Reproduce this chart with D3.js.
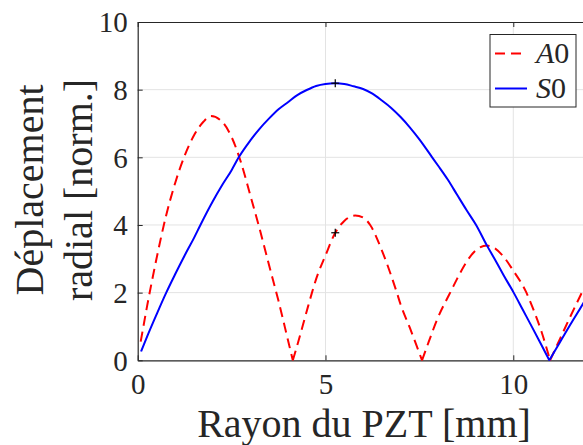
<!DOCTYPE html>
<html><head><meta charset="utf-8">
<script src="https://cdn.jsdelivr.net/npm/d3@7"></script>
<style>
body{margin:0;background:#fff;}
</style></head>
<body><svg id="c" width="583" height="445"></svg>
<script>
// ---- data ----
const a0X = [0.08,0.25,0.5,0.75,1.0,1.25,1.5,1.75,1.95,2.25,2.5,2.75,3.0,3.25,3.5,3.75,4.0,4.13,
  4.25,4.5,4.64,4.75,5.0,5.26,5.5,5.79,6.0,6.19,6.5,6.75,6.9,7.0,7.25,7.57,
  7.75,7.97,8.25,8.32,8.5,8.75,9.0,9.3,9.5,9.75,10.0,10.35,10.5,10.75,10.98,
  11.25,11.5,11.86,12.0];
const a0Y = [0.55,1.6,3.0,4.25,5.25,6.05,6.65,7.05,7.22,7.05,6.6,5.85,4.87,3.87,2.8,1.75,0.6,0,
  0.45,1.45,2.0,2.4,3.1,3.77,4.12,4.28,4.22,4.0,3.25,2.5,2.0,1.65,0.95,0,
  0.55,1.2,1.85,2.0,2.4,2.9,3.25,3.39,3.32,3.05,2.65,2.0,1.6,0.85,0,
  0.65,1.25,2.08,2.4];
const s0X = [0.09,0.25,0.5,0.76,1.0,1.25,1.5,1.67,2.0,2.25,2.5,2.69,3.0,3.25,3.5,3.75,4.0,4.25,4.5,4.75,5.0,5.26,
  5.5,5.75,6.0,6.25,6.5,6.75,7.0,7.25,7.5,7.84,8.0,8.25,8.5,8.75,9.01,9.3,9.5,9.75,10.01,10.25,10.5,10.75,10.96,
  11.25,11.5,11.86,12.0];
const s0Y = [0.26,0.7,1.35,2.0,2.55,3.1,3.62,4.0,4.7,5.18,5.62,6.0,6.5,6.85,7.15,7.42,7.63,7.84,7.99,8.11,8.17,8.19,
  8.17,8.1,8.02,7.88,7.68,7.46,7.19,6.88,6.53,6.0,5.75,5.35,4.9,4.45,4.0,3.39,3.0,2.5,2.0,1.5,0.98,0.45,0,
  0.55,1.02,1.68,1.95];
const markX = [5.26,5.26];
const markY = [8.19,3.77];
const xTicks = [0,5,10];
const yTicks = [0,2,4,6,8,10];
const seriesNames = ["A0","S0"];

// ---- drawing ----
const FONT = "'Liberation Serif'";
const svg = d3.select("#c");
const x = d3.scaleLinear().domain([0,12]).range([137.7,588.4]);
const y = d3.scaleLinear().domain([0,10]).range([360.3,22]);
const L = 137.7, R = 588.4, T = 22, B = 360.3;

svg.append("clipPath").attr("id","clip").append("rect")
  .attr("x",L).attr("y",T-2).attr("width",R-L).attr("height",B-T+4);

// grid
const g = svg.append("g");
g.selectAll(".gy").data(yTicks.filter(d=>d>0&&d<10)).enter().append("line")
  .attr("x1",L).attr("x2",R).attr("y1",d=>y(d)).attr("y2",d=>y(d))
  .attr("stroke","#e3e3e3").attr("stroke-width",1);
g.selectAll(".gx").data(xTicks.filter(d=>d>0)).enter().append("line")
  .attr("y1",T).attr("y2",B).attr("x1",d=>x(d)).attr("x2",d=>x(d))
  .attr("stroke","#e3e3e3").attr("stroke-width",1);

// axes with inward ticks
const xAx = svg.append("g").attr("transform",`translate(0,${B})`)
  .call(d3.axisBottom(x).tickValues(xTicks).tickSizeInner(-5).tickSizeOuter(0).tickPadding(12));
const xTop = svg.append("g").attr("transform",`translate(0,${T})`)
  .call(d3.axisTop(x).tickValues(xTicks).tickSizeInner(-5).tickSizeOuter(0).tickFormat(""));
const yAx = svg.append("g").attr("transform",`translate(${L},0)`)
  .call(d3.axisLeft(y).tickValues(yTicks).tickSizeInner(-5).tickSizeOuter(0).tickPadding(10));
[xAx,xTop,yAx].forEach(a=>{
  a.attr("font-family",null);
  a.select(".domain").attr("stroke","#262626").attr("stroke-width",1.2);
  a.selectAll(".tick line").attr("stroke","#262626").attr("stroke-width",1);
  a.selectAll(".tick text").style("font-size","29px").style("fill","#262626")
   .style("font-family",FONT);
});
xAx.selectAll(".tick text").attr("dy","0.75em");
yAx.selectAll(".tick text").attr("dy","0.34em");

// lines: each arch between zeros drawn smoothly, cusps kept sharp
function arches(xs, ys){
  const out = []; let cur = [];
  xs.forEach((v,i)=>{
    cur.push([v,ys[i]]);
    if (ys[i]===0 && cur.length>1){ out.push(cur); cur=[[v,0]]; }
  });
  if (cur.length>1) out.push(cur);
  return out;
}
const line = d3.line().x(d=>x(d[0])).y(d=>y(d[1])).curve(d3.curveMonotoneX);
const lines = svg.append("g").attr("clip-path","url(#clip)");
lines.append("path").attr("d",arches(a0X,a0Y).map(a=>line(a)).join(""))
  .attr("fill","none").attr("stroke","#ff0000").attr("stroke-width",2).attr("stroke-dasharray","10,6");
lines.append("path").attr("d",arches(s0X,s0Y).map(a=>line(a)).join(""))
  .attr("fill","none").attr("stroke","#0000ff").attr("stroke-width",2);

// markers
const mk = svg.append("g");
markX.forEach((mx,i)=>{
  const cx = x(mx), cy = y(markY[i]);
  mk.append("line").attr("x1",cx-4).attr("x2",cx+4).attr("y1",cy).attr("y2",cy).attr("stroke","#000").attr("stroke-width",1.2);
  mk.append("line").attr("x1",cx).attr("x2",cx).attr("y1",cy-4).attr("y2",cy+4).attr("stroke","#000").attr("stroke-width",1.2);
});

// legend
const lg = svg.append("g");
lg.append("rect").attr("x",490).attr("y",34.5).attr("width",86).attr("height",72.5)
  .attr("fill","#fff").attr("stroke","#262626").attr("stroke-width",1);
const legColors = ["#ff0000","#0000ff"], legDash = ["10,6",null], legY = [53.5,88.5];
seriesNames.forEach((nm,i)=>{
  lg.append("line").attr("x1",495).attr("x2",527).attr("y1",legY[i]).attr("y2",legY[i])
    .attr("stroke",legColors[i]).attr("stroke-width",2).attr("stroke-dasharray",legDash[i]);
  const t = lg.append("text").attr("x",536).attr("y",legY[i]+9.5)
    .style("font-size","30px").style("font-family",FONT).style("fill","#262626");
  t.append("tspan").style("font-style","italic").text(nm[0]);
  t.append("tspan").text(nm.slice(1));
});

// axis labels
svg.append("text").attr("x",364).attr("y",436.5).attr("text-anchor","middle")
  .style("font-size","40px").style("font-family",FONT).style("fill","#262626").text("Rayon du PZT [mm]");
const yl = svg.append("text").attr("transform","translate(0,190) rotate(-90)")
  .attr("text-anchor","middle").style("font-size","40px").style("font-family",FONT).style("fill","#262626");
yl.append("tspan").attr("x",0).attr("y",43).text("Déplacement");
yl.append("tspan").attr("x",0).attr("y",92).text("radial [norm.]");
</script></body></html>
